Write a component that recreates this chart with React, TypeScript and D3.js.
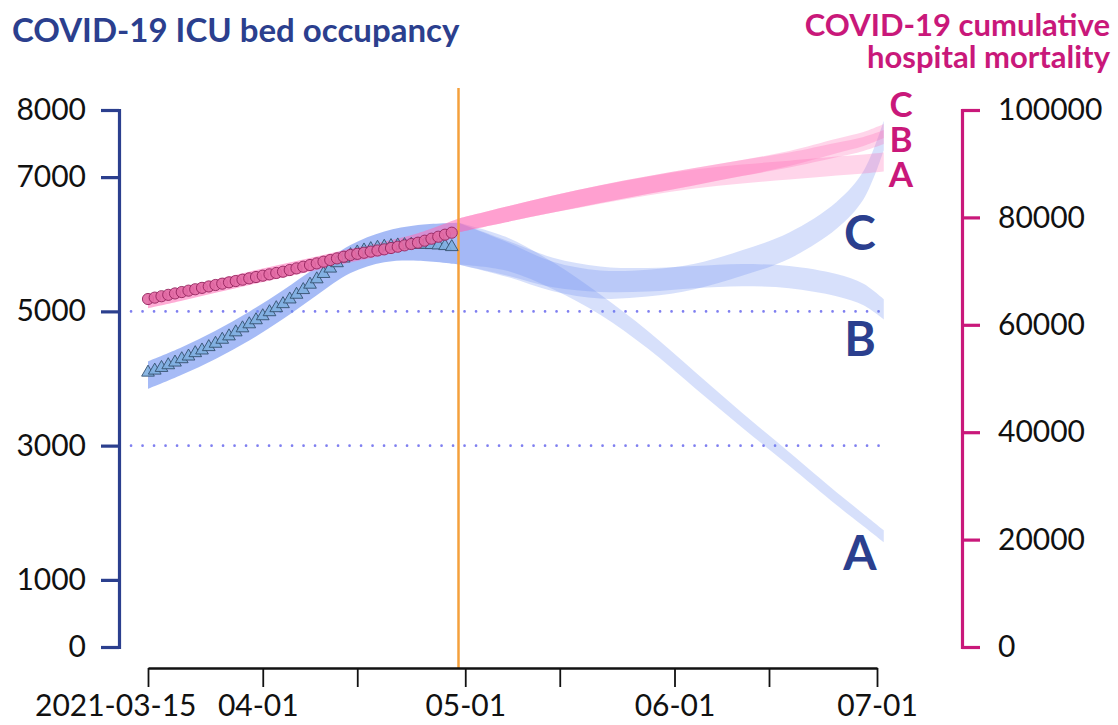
import React, { useEffect, useRef } from 'react';
import * as d3 from 'd3';

const W = 1118;
const H = 725;

const NAVY = '#2b3f8e';
const MAGENTA = '#c9187a';
const BAND_BLUE = '#6a8ef0';
const BAND_PINK = '#ff69b4';
const FONT = 'Lato, "DejaVu Sans", sans-serif';

// observed daily values, starting 2021-03-15
const obsStart = '2021-03-15';
const icuObserved = [
  4090, 4120, 4160, 4200, 4240, 4290, 4330, 4380, 4420, 4470,
  4520, 4580, 4630, 4690, 4750, 4810, 4870, 4930, 4990, 5050,
  5110, 5180, 5250, 5320, 5400, 5480, 5560, 5640, 5720, 5790,
  5840, 5880, 5910, 5930, 5950, 5965, 5975, 5985, 5990, 5995,
  5995, 5995, 5990, 5985, 5975, 5960,
];
const mortObserved = [
  64800, 65060, 65320, 65580, 65840, 66100, 66360, 66620, 66880, 67140,
  67410, 67660, 67910, 68150, 68400, 68650, 68900, 69150, 69400, 69650,
  69890, 70200, 70510, 70820, 71130, 71440, 71750, 72060, 72370, 72680,
  73000, 73210, 73420, 73630, 73840, 74050, 74300, 74540, 74790, 75040,
  75290, 75660, 76030, 76400, 76780, 77150,
];

// fitted bands up to the cut-off date
const fitDates = [
  '2021-03-15', '2021-03-20', '2021-03-25', '2021-03-30', '2021-04-04',
  '2021-04-09', '2021-04-14', '2021-04-19', '2021-04-24', '2021-04-30',
];
const icuFitMid = [4050, 4260, 4500, 4780, 5100, 5450, 5780, 5960, 6020, 6010];
const icuFitHalf = [205, 205, 210, 215, 215, 210, 210, 230, 265, 310];
const mortFitMid = [64340, 65750, 67200, 68650, 70050, 71450, 72900, 74250, 75800, 78500];
const mortFitHalf = [1250, 1250, 1250, 1250, 1250, 1250, 1250, 1250, 1270, 1300];

// scenario projections A / B / C
const scenDates = [
  '2021-04-30', '2021-05-07', '2021-05-14', '2021-05-21', '2021-05-28',
  '2021-06-04', '2021-06-11', '2021-06-18', '2021-06-25', '2021-06-29', '2021-07-02',
];
const icuAMid = [6010, 5860, 5530, 5100, 4580, 3980, 3380, 2800, 2210, 1890, 1650];
const icuAHalf = [310, 250, 200, 150, 130, 120, 110, 100, 95, 92, 90];
const icuBMid = [6010, 5800, 5580, 5480, 5470, 5510, 5540, 5510, 5390, 5250, 5030];
const icuBHalf = [310, 260, 220, 190, 175, 165, 165, 165, 165, 160, 150];
const icuCMid = [6010, 5780, 5520, 5400, 5420, 5520, 5720, 5980, 6430, 6880, 7620];
const icuCHalf = [310, 260, 220, 210, 200, 190, 190, 195, 200, 210, 220];

const mortAMid = [78500, 80540, 82490, 84260, 85840, 87150, 88080, 88820, 89570, 89940, 90310];
const mortAHalf = [1300, 1450, 1600, 1700, 1750, 1750, 1750, 1750, 1750, 1760, 1770];
const mortBMid = [78500, 80540, 82490, 84350, 86020, 87610, 89190, 90680, 92540, 93660, 94960];
const mortBHalf = [1300, 1450, 1600, 1650, 1650, 1600, 1500, 1400, 1350, 1300, 1300];
const mortCMid = [78500, 80540, 82490, 84350, 86020, 87610, 89190, 90960, 93290, 94590, 96080];
const mortCHalf = [1300, 1450, 1600, 1650, 1650, 1600, 1500, 1400, 1350, 1300, 1300];

const cutoffDate = '2021-04-30';
const xTicks = ['2021-03-15', '2021-04-01', '2021-04-15', '2021-05-01', '2021-05-15', '2021-06-01', '2021-06-15', '2021-07-01'];
const xLabelled = ['2021-03-15', '2021-04-01', '2021-05-01', '2021-06-01', '2021-07-01'];
const leftTicks = [0, 1000, 3000, 5000, 7000, 8000];
const rightTicks = [0, 20000, 40000, 60000, 80000, 100000];
const refLines = [3000, 5000];

const parse = d3.timeParse('%Y-%m-%d');

function App() {
  const svgRef = useRef<SVGSVGElement>(null);

  useEffect(() => {
    const svg = d3.select(svgRef.current);
    svg.selectAll('*').remove();

    const x = d3
      .scaleTime()
      .domain([parse('2021-03-15')!, parse('2021-07-01')!])
      .range([148, 877]);
    const yL = d3.scaleLinear().domain([0, 8000]).range([647, 110]);
    const yR = d3.scaleLinear().domain([0, 100000]).range([647, 110]);

    const start = parse(obsStart)!;
    const obsDates = icuObserved.map((_, i) => d3.timeDay.offset(start, i));

    // dotted reference lines
    const endX = x(parse(scenDates[scenDates.length - 1])!) + 2;
    svg
      .selectAll('line.ref')
      .data(refLines)
      .join('line')
      .attr('class', 'ref')
      .attr('x1', 131)
      .attr('x2', endX)
      .attr('y1', d => yL(d))
      .attr('y2', d => yL(d))
      .attr('stroke', '#7f7ff0')
      .attr('stroke-width', 2.6)
      .attr('stroke-linecap', 'round')
      .attr('stroke-dasharray', '0.1 11.4');

    function band(
      dates: string[],
      mid: number[],
      half: number[],
      y: d3.ScaleLinear<number, number>,
      color: string,
      opacity: number
    ) {
      const rows = dates.map((d, i) => ({ date: parse(d)!, lo: mid[i] - half[i], hi: mid[i] + half[i] }));
      const area = d3
        .area<{ date: Date; lo: number; hi: number }>()
        .x(d => x(d.date))
        .y0(d => y(d.lo))
        .y1(d => y(d.hi))
        .curve(d3.curveCatmullRom.alpha(0.5));
      svg
        .append('path')
        .datum(rows)
        .attr('d', area as any)
        .attr('fill', color)
        .attr('fill-opacity', opacity);
    }

    band(fitDates, icuFitMid, icuFitHalf, yL, BAND_BLUE, 0.6);
    band(scenDates, icuAMid, icuAHalf, yL, BAND_BLUE, 0.27);
    band(scenDates, icuBMid, icuBHalf, yL, BAND_BLUE, 0.27);
    band(scenDates, icuCMid, icuCHalf, yL, BAND_BLUE, 0.27);

    band(fitDates, mortFitMid, mortFitHalf, yR, BAND_PINK, 0.55);
    band(scenDates, mortAMid, mortAHalf, yR, BAND_PINK, 0.28);
    band(scenDates, mortBMid, mortBHalf, yR, BAND_PINK, 0.28);
    band(scenDates, mortCMid, mortCHalf, yR, BAND_PINK, 0.28);

    // cut-off line
    const cx = x(parse(cutoffDate)!);
    svg
      .append('line')
      .attr('x1', cx)
      .attr('x2', cx)
      .attr('y1', 88)
      .attr('y2', 668)
      .attr('stroke', '#f4a03c')
      .attr('stroke-width', 2.5);

    // observed points
    const tri = d3.symbol().type(d3.symbolTriangle).size(70);
    svg
      .selectAll('path.icu')
      .data(icuObserved)
      .join('path')
      .attr('class', 'icu')
      .attr('d', tri as any)
      .attr('transform', (d, i) => `translate(${x(obsDates[i])},${yL(d)})`)
      .attr('fill', '#7eafe0')
      .attr('fill-opacity', 0.9)
      .attr('stroke', '#34506e')
      .attr('stroke-width', 0.9);

    svg
      .selectAll('circle.mort')
      .data(mortObserved)
      .join('circle')
      .attr('class', 'mort')
      .attr('cx', (d, i) => x(obsDates[i]))
      .attr('cy', d => yR(d))
      .attr('r', 5.6)
      .attr('fill', '#e26aa4')
      .attr('fill-opacity', 0.9)
      .attr('stroke', '#94245e')
      .attr('stroke-width', 0.9);

    // left axis
    const gL = svg
      .append('g')
      .attr('transform', 'translate(119,0)')
      .call(
        d3.axisLeft(yL).tickValues(leftTicks).tickSize(18).tickSizeOuter(18).tickPadding(15).tickFormat(d3.format('d')) as any
      );
    gL.select('.domain').attr('stroke', NAVY).attr('stroke-width', 3.2);
    gL.selectAll('.tick line').attr('stroke', NAVY).attr('stroke-width', 3.2);
    gL.selectAll('.tick text').attr('fill', '#111').attr('font-size', 30).attr('font-family', FONT);

    // right axis
    const gR = svg
      .append('g')
      .attr('transform', 'translate(962,0)')
      .call(
        d3.axisRight(yR).tickValues(rightTicks).tickSize(18).tickSizeOuter(18).tickPadding(18).tickFormat(d3.format('d')) as any
      );
    gR.select('.domain').attr('stroke', MAGENTA).attr('stroke-width', 3.2);
    gR.selectAll('.tick line').attr('stroke', MAGENTA).attr('stroke-width', 3.2);
    gR.selectAll('.tick text').attr('fill', '#111').attr('font-size', 30).attr('font-family', FONT);

    // bottom axis
    const labelled = new Set(xLabelled);
    const gB = svg
      .append('g')
      .attr('transform', 'translate(0,668)')
      .call(
        d3
          .axisBottom(x)
          .tickValues(xTicks.map(d => parse(d)!))
          .tickSize(19)
          .tickSizeOuter(0)
          .tickPadding(8)
          .tickFormat((d: any, i: number) => {
            const s = d3.timeFormat('%Y-%m-%d')(d);
            if (!labelled.has(s)) return '';
            return i === 0 ? s : d3.timeFormat('%m-%d')(d);
          }) as any
      );
    gB.select('.domain').attr('stroke', '#111').attr('stroke-width', 2.6);
    gB.selectAll('.tick line').attr('stroke', '#111').attr('stroke-width', 1.8);
    gB.selectAll('.tick text').attr('fill', '#111').attr('font-size', 30).attr('font-family', FONT);
    gB.selectAll('.tick text')
      .filter((d, i) => i === 0)
      .attr('text-anchor', 'end')
      .attr('dx', 48);
    gB.selectAll('.tick text')
      .filter((d, i) => i === 1)
      .attr('dx', -5);

    // titles
    svg
      .append('text')
      .attr('x', 12)
      .attr('y', 42)
      .attr('fill', NAVY)
      .attr('font-family', FONT)
      .attr('font-weight', 'bold')
      .attr('font-size', 33)
      .text('COVID-19 ICU bed occupancy');

    svg
      .selectAll('text.rt')
      .data(['COVID-19 cumulative', 'hospital mortality'])
      .join('text')
      .attr('class', 'rt')
      .attr('x', 1110)
      .attr('y', (d, i) => 36 + i * 32)
      .attr('text-anchor', 'end')
      .attr('fill', MAGENTA)
      .attr('font-family', FONT)
      .attr('font-weight', 'bold')
      .attr('font-size', 31)
      .text(d => d);

    // scenario letters
    const blueLabels = [
      { t: 'C', y: 250 },
      { t: 'B', y: 356 },
      { t: 'A', y: 570 },
    ];
    svg
      .selectAll('text.bl')
      .data(blueLabels)
      .join('text')
      .attr('class', 'bl')
      .attr('x', 860)
      .attr('y', d => d.y)
      .attr('text-anchor', 'middle')
      .attr('fill', NAVY)
      .attr('font-family', FONT)
      .attr('font-weight', 'bold')
      .attr('font-size', 48)
      .text(d => d.t);

    const pinkLabels = [
      { t: 'C', y: 117 },
      { t: 'B', y: 152 },
      { t: 'A', y: 187 },
    ];
    svg
      .selectAll('text.pl')
      .data(pinkLabels)
      .join('text')
      .attr('class', 'pl')
      .attr('x', 901)
      .attr('y', d => d.y)
      .attr('text-anchor', 'middle')
      .attr('fill', MAGENTA)
      .attr('font-family', FONT)
      .attr('font-weight', 'bold')
      .attr('font-size', 35)
      .text(d => d.t);
  }, []);

  return (
    <svg
      ref={svgRef}
      width={W}
      height={H}
      style={{ position: 'absolute', left: 0, top: 0, background: '#fff' }}
    />
  );
}

export default App;
